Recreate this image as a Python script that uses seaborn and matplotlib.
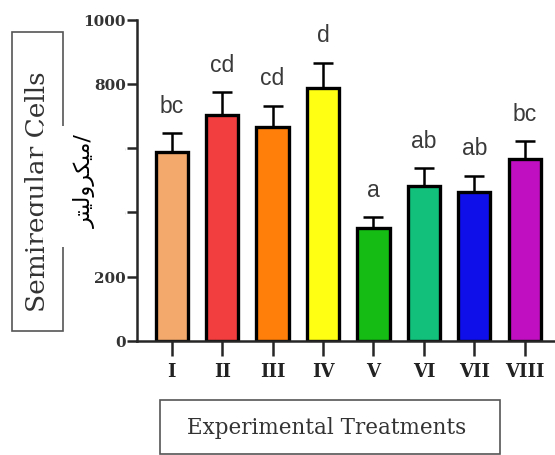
import numpy as np
import pandas as pd
import seaborn as sns
import matplotlib.pyplot as plt
from matplotlib.patches import Rectangle

# values
treatments = ["I", "II", "III", "IV", "V", "VI", "VII", "VIII"]
means = [589, 704, 667, 786, 350, 483, 465, 566]
errors = [57, 70, 65, 79, 35, 54, 49, 55]
letters = ["bc", "cd", "cd", "d", "a", "ab", "ab", "bc"]
colors = ["#F4A96C", "#F23E3E", "#FF7F0A", "#FFFF14", "#14BC14",
          "#12C07C", "#0F0FEA", "#C00FC0"]
yticks = [0, 200, 400, 600, 800, 1000]

# persian overlay, written in visual order with presentation forms
# (matplotlib does not shape arabic script itself)
overlay_text = "\uFEAE\uFE98\uFBFF\uFEDF\uFEED\uFEAE\uFB91\uFBFF\uFEE3/"

df = pd.DataFrame({"treatment": treatments, "value": means})

sns.set_style("ticks")
plt.rcParams["font.family"] = ["DejaVu Serif", "DejaVu Sans"]

fig = plt.figure(figsize=(5.55, 4.56), dpi=100)
ax = fig.add_axes([0.2468, 0.25, 0.7532, 0.705])

sns.barplot(data=df, x="treatment", y="value", hue="treatment",
            palette=colors, saturation=1, legend=False, width=0.64,
            edgecolor="black", linewidth=2.4, ax=ax, zorder=2)

xs = np.arange(len(treatments))
ax.errorbar(xs, means, yerr=[np.zeros(len(errors)), errors], fmt="none",
            ecolor="black", elinewidth=1.8, capsize=7, capthick=1.8, zorder=1)

for x, m, e, lab in zip(xs, means, errors, letters):
    ax.annotate(lab, (x, m + e), xytext=(0, 12), textcoords="offset points",
                ha="center", va="bottom", fontsize=16.5, color="#3a3a3a",
                family="Liberation Sans")

ax.set_xlim(-0.69, 7.6)
ax.set_ylim(0, 1000)
ax.set_yticks(yticks)
ax.set_yticklabels([str(t) for t in yticks], fontsize=11, fontweight="bold",
                   color="#333333")
ax.set_xticks(xs)
ax.set_xticklabels(treatments, fontsize=13, fontweight="bold", color="#222222")
ax.tick_params(axis="y", length=7, width=1.8, pad=1)
ax.tick_params(axis="x", length=11, width=1.8, pad=4)
ax.set_xlabel("")
ax.set_ylabel("")
sns.despine(ax=ax)
for side in ["left", "bottom"]:
    ax.spines[side].set_linewidth(1.8)

# framed axis titles
fig.patches.append(Rectangle((0.0216, 0.272), 0.092, 0.656, transform=fig.transFigure,
                             fill=False, edgecolor="#555555", linewidth=1.2))
fig.text(0.068, 0.58, "Semiregular Cells", rotation=90, ha="center", va="center",
         fontsize=19, color="#333333")
fig.patches.append(Rectangle((0.288, 0.003), 0.613, 0.118, transform=fig.transFigure,
                             fill=False, edgecolor="#555555", linewidth=1.2))
fig.text(0.588, 0.061, "Experimental Treatments", ha="center", va="center",
         fontsize=15.5, color="#333333")

# white patch with the persian unit pasted over the y title
fig.patches.append(Rectangle((0.0775, 0.456), 0.148, 0.265, transform=fig.transFigure,
                             facecolor="white", edgecolor="none", zorder=5))
fig.text(0.153, 0.603, overlay_text, rotation=90, ha="center", va="center",
         fontsize=16, color="black", family="DejaVu Sans", zorder=6)

fig.savefig("out.png", dpi=100)
